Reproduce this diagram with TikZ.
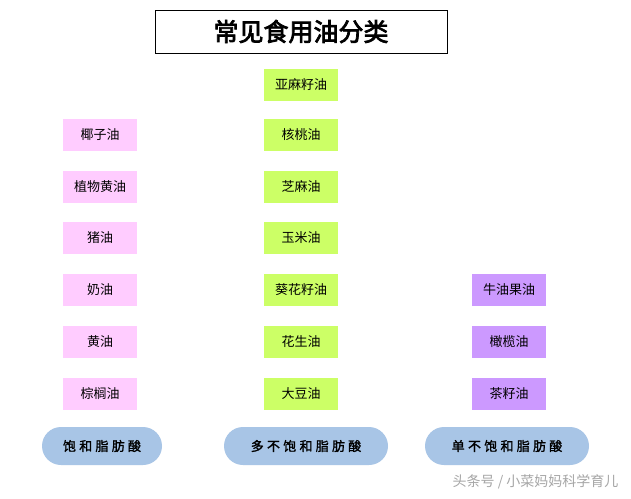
\documentclass[tikz,border=0pt]{standalone}
\usepackage{fontspec}
\setmainfont{Noto Sans CJK SC}
\newfontfamily\cjkbold[FakeBold=3]{Noto Sans CJK SC}
\newfontfamily\cjkspaced[FakeBold=1.5,LetterSpace=25]{Noto Sans CJK SC}
\definecolor{pinkc}{HTML}{FFCCFF}
\definecolor{greenc}{HTML}{CCFF66}
\definecolor{purpc}{HTML}{CC99FF}
\definecolor{pillc}{HTML}{A8C5E6}
\begin{document}
\begin{tikzpicture}[x=1pt,y=-1pt,
  oil/.style={minimum width=74pt,minimum height=32pt,inner sep=0pt,font=\fontsize{13}{15}\selectfont},
  pill/.style={fill=pillc,rounded corners=19pt,minimum height=38pt,inner sep=0pt,font=\fontsize{13}{15}\selectfont\cjkspaced}]
\useasboundingbox[fill=white] (0,0) rectangle (631,498);
\node[draw,thick,minimum width=292pt,minimum height=43pt,font=\fontsize{25}{28}\selectfont\cjkbold] (title) at (301,31.5) {常见食用油分类};
\foreach \t/\y/\n in {椰子油/135/l1,植物黄油/187/l2,猪油/238/l3,奶油/290/l4,黄油/342/l5,棕榈油/394/l6}
  \node[oil,fill=pinkc] (\n) at (100,\y) {\t};
\foreach \t/\y/\n in {亚麻籽油/85/m0,核桃油/135/m1,芝麻油/187/m2,玉米油/238/m3,葵花籽油/290/m4,花生油/342/m5,大豆油/394/m6}
  \node[oil,fill=greenc] (\n) at (301,\y) {\t};
\foreach \t/\y/\n in {牛油果油/290/r4,橄榄油/342/r5,茶籽油/394/r6}
  \node[oil,fill=purpc] (\n) at (509,\y) {\t};
\node[pill,minimum width=120pt] (p1) at (102,446) {饱和脂肪酸};
\node[pill,minimum width=164pt] (p2) at (306,446) {多不饱和脂肪酸};
\node[pill,minimum width=164pt] (p3) at (507,446) {单不饱和脂肪酸};
\node[text=gray!70,font=\fontsize{14}{16}\selectfont,anchor=east] (wm) at (622,482) {头条号 / 小菜妈妈科学育儿};
\end{tikzpicture}
\end{document}
